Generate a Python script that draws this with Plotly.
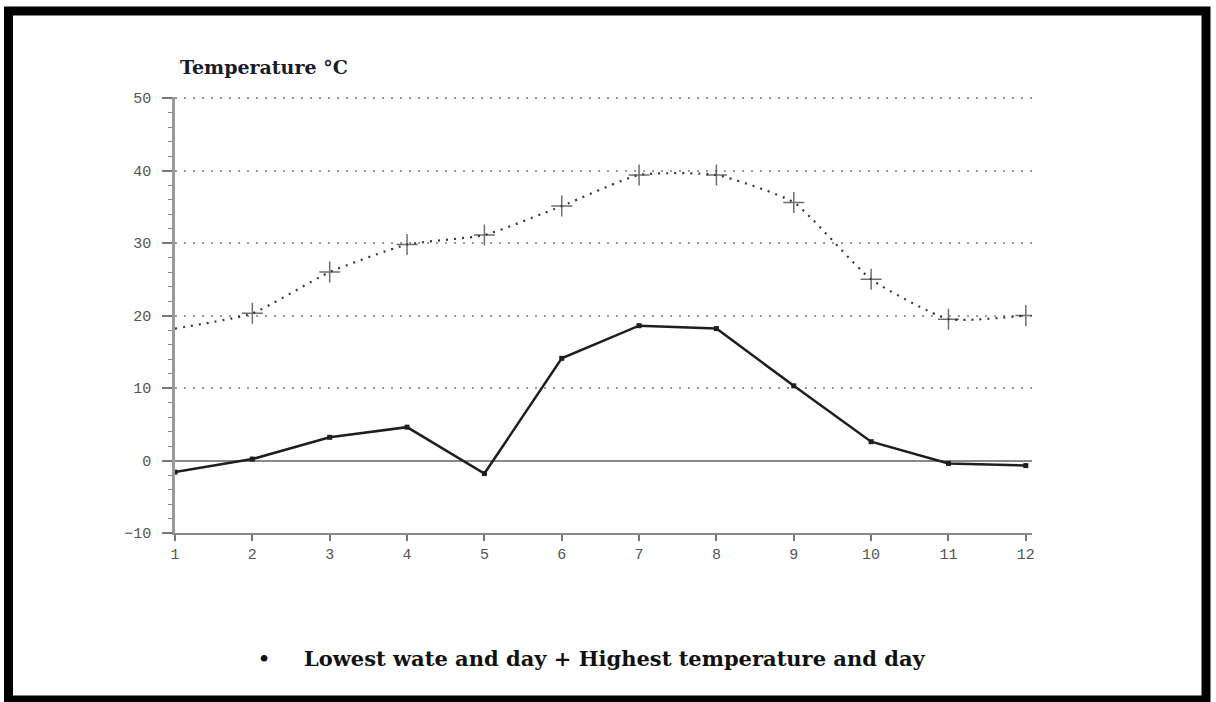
import plotly.graph_objects as go

months = [1, 2, 3, 4, 5, 6, 7, 8, 9, 10, 11, 12]
lowest = [-1.6, 0.2, 3.2, 4.6, -1.8, 14.1, 18.6, 18.2, 10.3, 2.6, -0.4, -0.7]
highest = [18.2, 20.3, 26.0, 29.8, 31.1, 35.1, 39.4, 39.4, 35.6, 25.0, 19.5, 20.0]
y_ticks = [-10, 0, 10, 20, 30, 40, 50]
y_labels = ["\u221210", "0", "10", "20", "30", "40", "50"]
x_labels = [str(m) for m in months]

W, H = 1216, 702
L, R, T, B = 175, 184, 97, 169
pw, ph = W - L - R, H - T - B


def px(x):
    return (x - L) / pw


def py(y):
    return 1 - (y - T) / ph


fig = go.Figure()

fig.add_trace(go.Scatter(
    x=months, y=highest, mode="lines+markers",
    line=dict(color="#3a3a3a", width=2.2, dash="2px,6px", shape="spline", smoothing=0.5),
    marker=dict(symbol="cross-thin", size=[0] + [15] * 11, line=dict(color="#333333", width=1.5)),
    name="Highest temperature and day", showlegend=False,
))

fig.add_trace(go.Scatter(
    x=months, y=lowest, mode="lines+markers",
    line=dict(color="#1e1e1e", width=2.5),
    marker=dict(symbol="square", size=5, color="#1e1e1e"),
    name="Lowest wate and day", showlegend=False,
))

fig.update_layout(
    width=W, height=H,
    margin=dict(l=L, r=R, t=T, b=B, autoexpand=False),
    paper_bgcolor="white", plot_bgcolor="white",
    xaxis=dict(
        range=[1, 12.08], tickmode="array", tickvals=months, ticktext=x_labels,
        showgrid=False, zeroline=False,
        showline=True, linecolor="#8a8a8a", linewidth=2,
        ticks="outside", ticklen=6, tickcolor="#777777", tickwidth=1.5,
        tickfont=dict(family="Liberation Mono", size=15, color="#555555"),
    ),
    yaxis=dict(
        range=[-10, 50.15], tickmode="array", tickvals=y_ticks, ticktext=y_labels,
        showgrid=True, gridcolor="#9a9a9a", gridwidth=1.5, griddash="2px,7px",
        zeroline=True, zerolinecolor="#8a8a8a", zerolinewidth=1.5,
        showline=True, linecolor="#9a9a9a", linewidth=2.5,
        ticks="outside", ticklen=10, tickcolor="#777777", tickwidth=1.5,
        ticklabelstandoff=8,
        minor=dict(dtick=2, ticks="outside", ticklen=4, tickcolor="#8a8a8a", tickwidth=1, showgrid=False),
        tickfont=dict(family="Liberation Mono", size=15, color="#555555"),
    ),
    shapes=[
        dict(type="rect", xref="paper", yref="paper",
             x0=px(8.5), x1=px(1206), y0=py(11), y1=py(700),
             line=dict(color="black", width=9), fillcolor="rgba(0,0,0,0)", layer="above"),
    ],
    annotations=[
        dict(text="<b>Temperature °C</b>", xref="paper", yref="paper",
             x=px(178), y=py(67), xanchor="left", yanchor="middle", showarrow=False,
             font=dict(family="DejaVu Serif", size=19, color="#1a1a2a")),
        dict(text="<b>\u2022</b>", xref="paper", yref="paper",
             x=px(264), y=py(658), xanchor="center", yanchor="middle", showarrow=False,
             font=dict(family="DejaVu Serif", size=19, color="#111111")),
        dict(text="<b>Lowest wate and day + Highest temperature and day</b>", xref="paper", yref="paper",
             x=px(615), y=py(658), xanchor="center", yanchor="middle", showarrow=False,
             font=dict(family="DejaVu Serif", size=21, color="#111111")),
    ],
)

fig.write_html("out.html", config={"displayModeBar": False},
               post_script="document.body.style.margin='0';document.body.style.overflow='hidden';")
